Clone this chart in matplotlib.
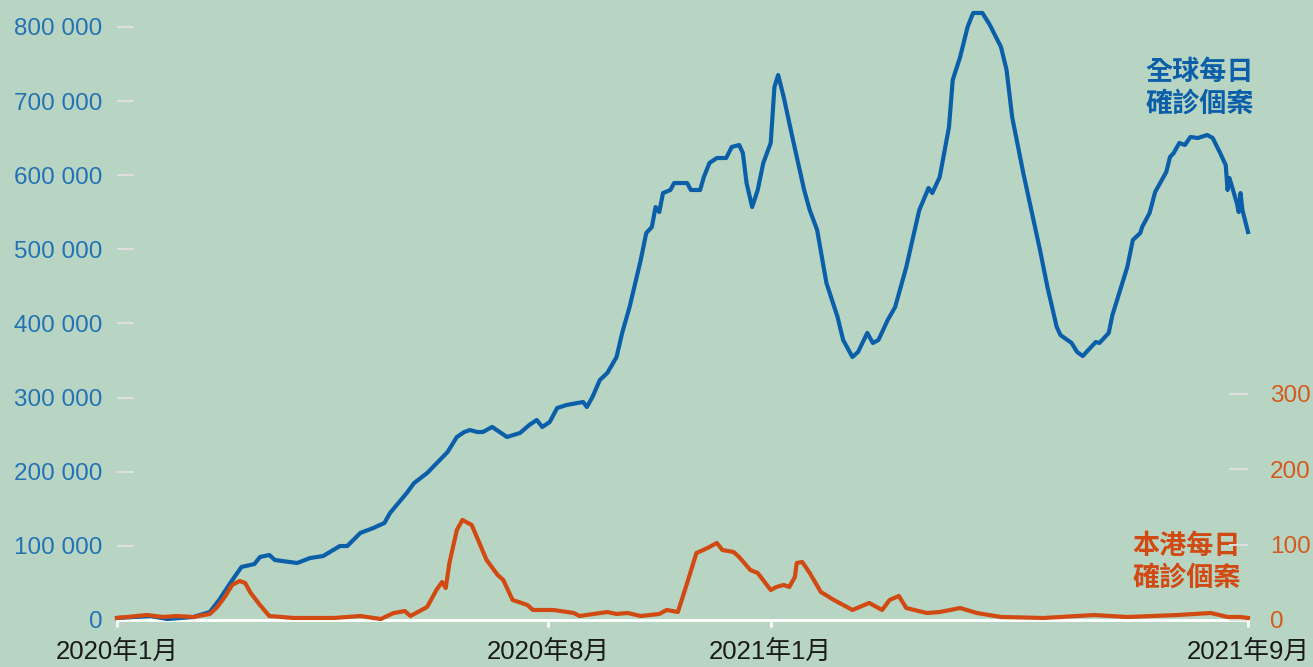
import matplotlib
matplotlib.use("Agg")
import matplotlib.pyplot as plt
from matplotlib.ticker import FuncFormatter

# 全球每日確診個案（千宗）
global_days = [0, 18, 27, 41, 50, 55, 61, 67, 74, 77, 82, 85, 97, 104, 111, 120, 124,
               131, 138, 144, 147, 156, 160, 167, 178, 183, 187, 190, 194, 197, 202,
               210, 217, 222, 226, 229, 233, 237, 242, 251, 253, 256, 260, 264, 269,
               272, 276, 282, 285, 288, 290, 292, 294, 298, 300, 307, 309, 314, 316,
               319, 323, 328, 331, 335, 337, 339, 342, 345, 348, 352, 354, 356, 359,
               364, 368, 370, 373, 377, 382, 388, 391, 396, 399, 404, 407, 410, 415,
               419, 425, 432, 437, 439, 443, 448, 450, 454, 458, 461, 466, 470, 476,
               479, 482, 488, 495, 497, 501, 506, 508, 514, 517, 520, 527, 529, 534,
               536, 544, 547, 551, 552, 556, 559, 565, 567, 569, 572, 575, 578, 582,
               587, 590, 594, 597, 598, 599, 603, 604, 605, 606, 609]
global_k = [2.7, 5.4, 1.3, 4.0, 10.8, 27.0, 49.9, 71.5, 75.5, 85.0, 87.7, 80.9, 76.9,
            83.6, 86.3, 99.8, 99.8, 117.4, 124.1, 130.9, 144.3, 171.3, 184.8, 198.3,
            226.6, 246.9, 253.6, 256.3, 253.6, 253.6, 260.4, 246.9, 252.3, 263.1, 269.8,
            260.4, 267.1, 286.0, 290.0, 294.1, 287.3, 300.8, 323.8, 333.2, 354.8, 387.2,
            422.2, 485.6, 522.1, 530.2, 557.1, 550.4, 576.0, 580.1, 589.5, 589.5, 580.1,
            580.1, 597.6, 616.5, 623.2, 623.2, 638.1, 640.8, 630.0, 589.5, 557.1, 580.1,
            616.5, 643.5, 719.0, 735.2, 705.5, 647.5, 603.0, 580.1, 553.1, 526.1, 454.6,
            408.7, 377.7, 354.8, 361.5, 387.2, 373.7, 377.7, 404.7, 422.2, 476.2, 553.1,
            582.8, 576.0, 597.6, 665.1, 728.5, 759.5, 800.0, 818.9, 818.9, 802.7, 773.0,
            742.0, 678.5, 603.0, 522.1, 499.1, 449.2, 395.3, 384.5, 373.7, 361.5, 356.1,
            375.0, 373.7, 387.2, 411.4, 476.2, 512.6, 522.1, 530.2, 549.0, 577.4, 604.4,
            624.6, 630.0, 643.5, 640.8, 651.6, 650.2, 654.3, 650.2, 630.0, 613.8, 580.1,
            596.3, 562.5, 550.4, 576.0, 553.1, 523.4]

# 本港每日確診個案
hk_days = [0, 16, 25, 32, 41, 50, 54, 58, 62, 66, 69, 72, 77, 82, 95, 117, 131, 142,
           149, 155, 158, 167, 172, 175, 177, 179, 183, 186, 188, 191, 199, 205, 208,
           213, 221, 224, 235, 246, 249, 264, 269, 275, 282, 292, 296, 302, 307, 312,
           318, 323, 326, 332, 335, 341, 345, 352, 355, 359, 362, 365, 366, 369, 373,
           379, 386, 396, 405, 412, 416, 421, 425, 436, 443, 454, 463, 476, 499, 526,
           544, 571, 589, 598, 605, 609]
hk_cases = [2.7, 6.6, 4.0, 5.3, 4.0, 8.0, 17.3, 30.5, 46.5, 51.8, 49.1, 35.8, 19.9, 5.3,
            2.7, 2.7, 5.3, 1.3, 9.3, 11.9, 5.3, 17.3, 39.8, 50.4, 42.5, 75.7, 119.5, 132.8,
            130.1, 126.1, 79.7, 59.7, 53.1, 26.6, 19.9, 13.3, 13.3, 9.3, 5.3, 10.6, 8.0,
            9.3, 5.3, 8.0, 13.3, 10.6, 49.1, 88.9, 95.6, 102.2, 92.9, 90.3, 83.6, 66.4,
            62.4, 39.8, 43.8, 46.5, 43.8, 57.1, 75.7, 77.0, 62.4, 37.2, 26.6, 13.3, 22.6,
            13.3, 26.6, 31.9, 15.9, 9.3, 10.6, 15.9, 9.3, 4.0, 2.7, 6.6, 4.0, 6.6, 9.3,
            4.0, 4.0, 2.7]

tick_days = [0, 232, 352, 609]
tick_labels = ["2020年1月", "2020年8月", "2021年1月", "2021年9月"]
left_ticks = [0, 100000, 200000, 300000, 400000, 500000, 600000, 700000, 800000]
right_ticks = [0, 100, 200, 300]

BG = "#b8d5c4"
BLUE = "#0b5fa9"
ORANGE = "#d04a12"
NUM_FONT = ["Liberation Sans", "Noto Sans CJK TC", "DejaVu Sans"]
CJK_FONT = ["Noto Sans CJK TC", "DejaVu Sans"]

plt.rcParams["font.family"] = NUM_FONT

fig = plt.figure(figsize=(13.13, 6.67), dpi=100, facecolor=BG)
ax = fig.add_axes([117 / 1313, 47 / 667, (1248 - 117) / 1313, 620 / 667])
ax.set_facecolor(BG)
ax2 = ax.twinx()

ax.plot(global_days, [v * 1000 for v in global_k], color=BLUE, lw=3,
        solid_joinstyle="round", clip_on=False, zorder=3)
ax2.plot(hk_days, hk_cases, color=ORANGE, lw=3, solid_joinstyle="round",
         clip_on=False, zorder=4)

ax.set_xlim(0, 609)
ax.set_ylim(0, 836400)
ax2.set_ylim(0, 823)

# 左軸
ax.set_yticks(left_ticks)
ax.yaxis.set_major_formatter(FuncFormatter(lambda v, p: f"{int(v):,}".replace(",", " ")))
ax.tick_params(axis="y", direction="in", length=12, width=1.5, color="#dedede",
               labelcolor="#2272b4", labelsize=17.5, pad=10.5)

# 右軸
ax2.set_yticks(right_ticks)
ax2.tick_params(axis="y", direction="in", length=14, width=1.5, color="#dedede",
                labelcolor="#d45a1f", labelsize=17.5, pad=16)

# X 軸
ax.set_xticks(tick_days)
ax.set_xticklabels(tick_labels)
ax.tick_params(axis="x", direction="out", length=5, width=2, color="white",
               labelcolor="#1a1a1a", labelsize=18.5, pad=9)

for a in (ax, ax2):
    for s in ("top", "left", "right"):
        a.spines[s].set_visible(False)
    a.spines["bottom"].set_visible(False)
ax.spines["bottom"].set_visible(True)
ax.spines["bottom"].set_color("white")
ax.spines["bottom"].set_linewidth(2)

# 標註
ax.text(583, 717700, "全球每日\n確診個案", color=BLUE, fontsize=19.5,
        fontweight="bold", family=CJK_FONT, ha="center", va="center",
        linespacing=1.15, zorder=5)
ax.text(576, 78900, "本港每日\n確診個案", color=ORANGE, fontsize=19.5,
        fontweight="bold", family=CJK_FONT, ha="center", va="center",
        linespacing=1.15, zorder=5)

fig.savefig("out.png", dpi=100, facecolor=BG)
